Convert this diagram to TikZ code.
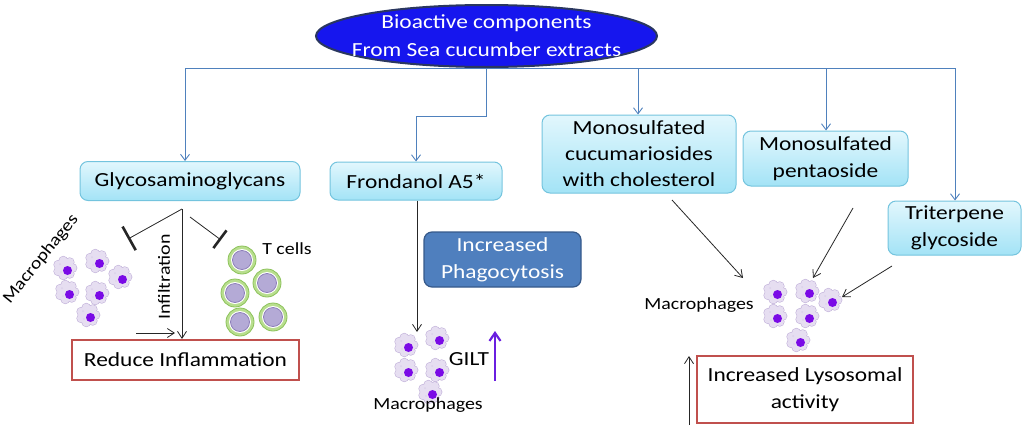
\documentclass[tikz,border=0pt]{standalone}
\usepackage{fontspec}
\setmainfont{Carlito}[FakeStretch=1.17]
\usetikzlibrary{shapes.geometric,arrows.meta}
\definecolor{ellfill}{HTML}{1616EE}
\definecolor{elledge}{HTML}{2A3760}
\definecolor{cyantop}{HTML}{E2F7FD}
\definecolor{cyanbot}{HTML}{A3E3F6}
\definecolor{cyanedge}{HTML}{74C4DE}
\definecolor{connblue}{HTML}{4F81BD}
\definecolor{phagfill}{HTML}{4F7FBE}
\definecolor{phagedge}{HTML}{36598A}
\definecolor{redge}{HTML}{C0504D}
\definecolor{cellfill}{HTML}{E6DEF1}
\definecolor{celledge}{HTML}{C2B2DA}
\definecolor{nucleus}{HTML}{7A0AE6}
\definecolor{tgreen}{HTML}{B8DE8E}
\definecolor{tgreenedge}{HTML}{8CC25A}
\definecolor{tpurple}{HTML}{B4AAD6}
\definecolor{tpurpleedge}{HTML}{8E80BA}
\definecolor{giltarrow}{HTML}{6A1FE0}
\tikzset{
  big/.style={font=\fontsize{20}{27}\selectfont},
  small/.style={font=\fontsize{17}{20}\selectfont},
  ell/.style={ellipse, draw=elledge, line width=2pt, fill=ellfill,
    minimum width=341, minimum height=62, inner sep=0pt},
  elltext/.style={text=white, align=center, inner sep=0pt, font=\fontsize{20}{28}\selectfont},
  cbox/.style={big, draw=cyanedge, line width=1pt, top color=cyantop, bottom color=cyanbot,
    rounded corners=8pt, align=center, inner sep=0pt},
  pbox/.style={big, draw=phagedge, line width=1.2pt, fill=phagfill, text=white,
    rounded corners=8pt, align=center, inner sep=0pt},
  rbox/.style={big, draw=redge, line width=2pt, fill=white, align=center, inner sep=0pt},
  conn/.style={draw=connblue, line width=0.9pt},
  carr/.style={conn, -{Straight Barb[length=6pt,width=9pt]}},
  blk/.style={draw=black!85, line width=0.8pt},
  barr/.style={blk, -{Straight Barb[length=7pt,width=9pt]}},
  cell/.pic={
    \foreach \a in {0,51,103,154,206,257,309}
      \draw[celledge, line width=1.2pt] (\a:7.5) circle (4.2);
    \draw[celledge, line width=1.2pt] (0,0) circle (8);
    \foreach \a in {0,51,103,154,206,257,309}
      \fill[cellfill] (\a:7.5) circle (4.2);
    \fill[cellfill] (0,0) circle (8);
    \fill[celledge!60] (-5,-4) circle (1);
    \fill[celledge!60] (-4,4) circle (0.9);
    \fill[nucleus] (2.5,2.5) circle (4.5);
  },
  tcell/.pic={
    \fill[tgreen, draw=tgreenedge, line width=0.8pt] (0,0) circle (14);
    \fill[white] (0,0) circle (11);
    \fill[tpurple, draw=tpurpleedge, line width=0.8pt] (0,0) circle (9.5);
  }
}
\begin{document}
\begin{tikzpicture}[x=1pt,y=-1pt]
\useasboundingbox (0,0) rectangle (1024,434);

% blue connector tree (drawn first, under the ellipse)
\coordinate (hl) at (185,68);
\coordinate (hr) at (955,68);
\coordinate (hm) at (638,68);
\coordinate (hp) at (826,68);
\draw[conn] (hl) -- (hr);

\node[ell] (top) at (486.5,36) {};
\node[elltext] (toptext) at (top.center) {Bioactive components\\From Sea cucumber extracts};

\node[cbox, minimum width=220, minimum height=39] (gag) at (190,181) {Glycosaminoglycans};
\node[cbox, minimum width=172, minimum height=38] (fr) at (416,181) {Frondanol A5*};
\node[cbox, minimum width=194, minimum height=78, font=\fontsize{20}{26}\selectfont] (mc) at (639,154) {Monosulfated\\cucumariosides\\with cholesterol};
\node[cbox, minimum width=165, minimum height=55] (pent) at (825.5,158.5) {Monosulfated\\pentaoside};
\node[cbox, minimum width=133, minimum height=54] (tri) at (954.5,228) {Triterpene\\glycoside};
\node[pbox, minimum width=157, minimum height=55] (phag) at (502.5,259.5) {Increased\\Phagocytosis};
\node[rbox, minimum width=227, minimum height=40] (red) at (185.5,360) {Reduce Inflammation};
\node[rbox, minimum width=216, minimum height=67] (lys) at (805,389.5) {Increased Lysosomal\\activity};

\draw[carr] (hl) -- (hl |- gag.north);
\draw[carr] (top.south) -- ++(0,48) -| (fr.north);
\draw[carr] (hm) -- (hm |- mc.north);
\draw[carr] (hp) -- (hp |- pent.north);
\draw[carr] (hr) -- (hr |- tri.north);

% Glycosaminoglycans branch
\coordinate (g0) at (182,209);
\coordinate (gl) at (128,239);
\coordinate (g1) at (190,217);
\coordinate (gr) at (221,240);
\draw[barr] (g0) -- (g0 |- red.north);
\draw[blk, -{Bar[width=27pt,line width=2.6pt]}] (g0) -- (gl);
\draw[blk, -{Bar[width=22pt,line width=2.6pt]}] (g1) -- (gr);
\coordinate (ia) at (136,333);
\coordinate (ib) at (175,333);
\draw[barr] (ia) -- (ib);
\node[small, rotate=90] (infl) at (164,277) {Infiltration};
\node[small, rotate=51] (macl) at (41,259) {Macrophages};
\node[small] (tcl) at (287,249) {T cells};

\pic at (65,268) {cell};
\pic at (97,261) {cell};
\pic at (120,277) {cell};
\pic at (67,292) {cell};
\pic at (97,293) {cell};
\pic at (88,315) {cell};

\pic at (242,260) {tcell};
\pic at (267,283) {tcell};
\pic at (235,293) {tcell};
\pic at (240,322) {tcell};
\pic at (273,317) {tcell};

% Frondanol branch
\coordinate (f1) at (417,332);
\draw[barr] (fr.south -| f1) -- (f1);
\pic at (406,345) {cell};
\pic at (437,338) {cell};
\pic at (406,370) {cell};
\pic at (437,370) {cell};
\pic at (430,392) {cell};
\node[big] (gilt) at (469,359) {GILT};
\coordinate (ga) at (495,381);
\coordinate (gb) at (495,331);
\draw[draw=giltarrow, line width=2.2pt, -{Straight Barb[length=8pt,width=11pt]}] (ga) -- (gb);
\node[small] (macb) at (428,405) {Macrophages};

% right branch
\coordinate (m1a) at (672,200);
\coordinate (m1b) at (743,278);
\coordinate (m2a) at (853,208);
\coordinate (m2b) at (813,278);
\coordinate (m3a) at (892,266);
\coordinate (m3b) at (842,297);
\draw[barr] (m1a) -- (m1b);
\draw[barr] (m2a) -- (m2b);
\draw[barr] (m3a) -- (m3b);
\pic at (775,292) {cell};
\pic at (807,291) {cell};
\pic at (830,300) {cell};
\pic at (775,316) {cell};
\pic at (807,316) {cell};
\pic at (798,340) {cell};
\node[small] (macr) at (699,305) {Macrophages};
\coordinate (la) at (689,425);
\coordinate (lb) at (689,356);
\draw[barr] (la) -- (lb);
\end{tikzpicture}
\end{document}
